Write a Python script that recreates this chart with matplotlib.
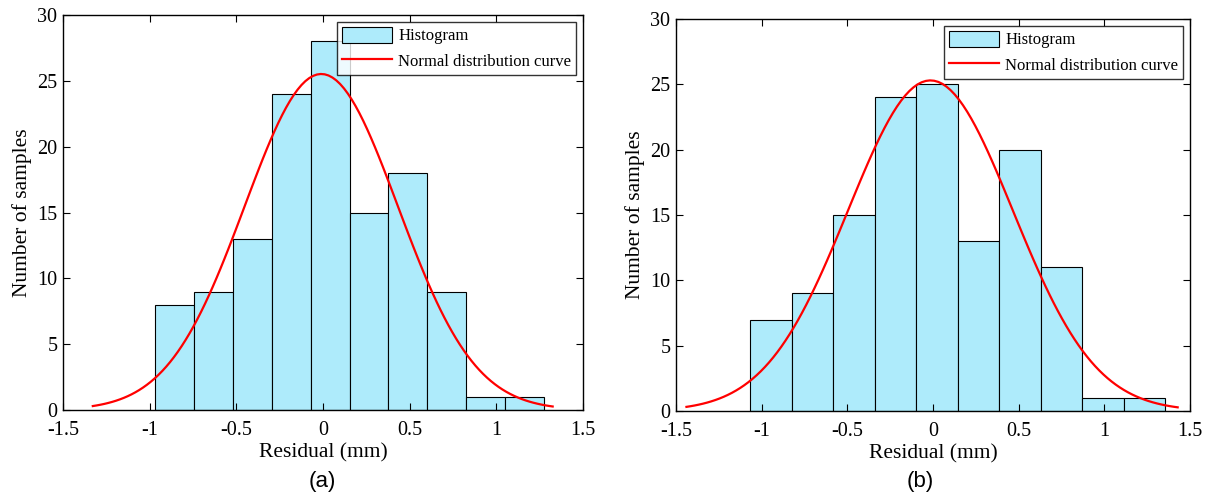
import numpy as np
import matplotlib.pyplot as plt

# histogram counts
counts_a = [8, 9, 13, 24, 28, 15, 18, 9, 1, 1]
counts_b = [7, 9, 15, 24, 25, 13, 20, 11, 1, 1]

# bin layout (first edge, bin width)
edge0_a, width_a = -0.969, 0.2244
edge0_b, width_b = -1.066, 0.2421

# fitted normal curve: mean, std, x range
mu_a, sigma_a, range_a = -0.01, 0.442, (-1.328, 1.325)
mu_b, sigma_b, range_b = -0.015, 0.481, (-1.439, 1.428)

xticks = [-1.5, -1, -0.5, 0, 0.5, 1, 1.5]
xtick_labels = ["-1.5", "-1", "-0.5", "0", "0.5", "1", "1.5"]
yticks = [0, 5, 10, 15, 20, 25, 30]

plt.rcParams["font.family"] = ["Liberation Serif", "DejaVu Serif"]
BAR_COLOR = "#AEEBFB"


def draw_panel(ax, counts, edge0, width, mu, sigma, xr):
    n = len(counts)
    lefts = edge0 + width * np.arange(n)
    bars = ax.bar(lefts, counts, width=width, align="edge", color=BAR_COLOR,
                  edgecolor="black", linewidth=0.8)

    total = sum(counts)
    xs = np.linspace(xr[0], xr[1], 120)
    ys = total * width / (sigma * np.sqrt(2 * np.pi)) * np.exp(-(xs - mu) ** 2 / (2 * sigma ** 2))
    line, = ax.plot(xs, ys, color="red", linewidth=1.6)

    ax.set_xlim(-1.5, 1.5)
    ax.set_ylim(0, 30)
    ax.set_xticks(xticks)
    ax.set_xticklabels(xtick_labels)
    ax.set_yticks(yticks)
    ax.tick_params(direction="in", top=True, right=True, labelsize=14.5,
                   length=5, width=0.8)
    ax.tick_params(axis="x", pad=8)
    ax.tick_params(axis="y", pad=4)
    for s in ax.spines.values():
        s.set_linewidth(1.0)
    ax.set_xlabel("Residual (mm)", fontsize=15.5, labelpad=2)
    ax.set_ylabel("Number of samples", fontsize=15.5, labelpad=4)

    leg = ax.legend([bars, line], ["Histogram", "Normal distribution curve"],
                    loc="upper right", fontsize=12, frameon=True, fancybox=False,
                    edgecolor="black", borderpad=0.3, labelspacing=0.45,
                    handlelength=3.0, handleheight=1.1, handletextpad=0.4,
                    borderaxespad=0.4)
    leg.get_frame().set_linewidth(1.0)


fig = plt.figure(figsize=(12.07, 4.99), dpi=100)
W, H = 1207, 499
ax1 = fig.add_axes([63 / W, 1 - 410 / H, (583 - 63) / W, (410 - 15) / H])
ax2 = fig.add_axes([676 / W, 1 - 411 / H, (1190 - 676) / W, (411 - 19) / H])

draw_panel(ax1, counts_a, edge0_a, width_a, mu_a, sigma_a, range_a)
draw_panel(ax2, counts_b, edge0_b, width_b, mu_b, sigma_b, range_b)

fig.text(322 / W, 1 - 482 / H, "(a)", fontsize=16, family="Liberation Sans",
         ha="center", va="center")
fig.text(920 / W, 1 - 482 / H, "(b)", fontsize=16, family="Liberation Sans",
         ha="center", va="center")

fig.savefig("out.png", dpi=100)
plt.close(fig)
